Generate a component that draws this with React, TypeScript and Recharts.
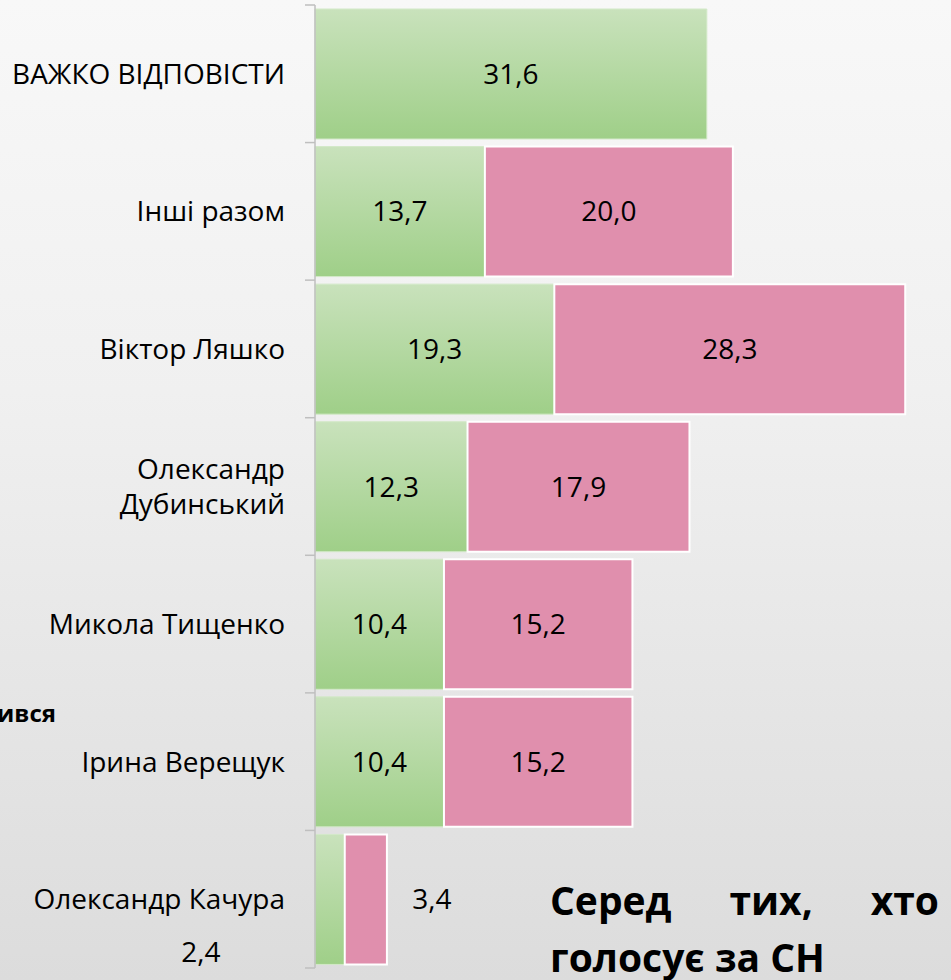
import { BarChart, Bar, XAxis, YAxis, LabelList } from 'recharts'

const categories = [
  'ВАЖКО ВІДПОВІСТИ',
  'Інші разом',
  'Віктор Ляшко',
  'Олександр Дубинський',
  'Микола Тищенко',
  'Ірина Верещук',
  'Олександр Качура',
]
const greenValues = [31.6, 13.7, 19.3, 12.3, 10.4, 10.4, 2.4]
const pinkValues = [null, 20.0, 28.3, 17.9, 15.2, 15.2, 3.4]

// label lines for multi-line category names
const categoryLines: Record<string, string[]> = {
  'Олександр Дубинський': ['Олександр', 'Дубинський'],
}

// labels that were dragged out of their bars in the original
const greenLabelShift: Record<string, { dx: number; dy: number }> = {
  'Олександр Качура': { dx: -129, dy: 53 },
}
const pinkLabelShift: Record<string, { dx: number; dy: number }> = {
  'Олександр Качура': { dx: 66, dy: 0 },
}

const data = categories.map((name, i) => ({
  name,
  green: greenValues[i],
  pink: pinkValues[i],
}))

const FONT = '"Open Sans", "Noto Sans", sans-serif'
const fmt = (v: number) => v.toFixed(1).replace('.', ',')

const CategoryTick = (props: any) => {
  const { x, y, payload, index } = props
  const half = payload.offset || 0
  const lines = categoryLines[payload.value] || [payload.value]
  const lh = 35
  const start = -((lines.length - 1) * lh) / 2
  return (
    <g>
      <line x1={x - 10} x2={x} y1={y - half} y2={y - half} stroke="#bfbfbf" strokeWidth={1.5} />
      {index === categories.length - 1 && (
        <line x1={x - 10} x2={x} y1={y + half} y2={y + half} stroke="#bfbfbf" strokeWidth={1.5} />
      )}
      <text x={x - 30} y={y} textAnchor="end" fontFamily={FONT} fontSize={28} fill="#000">
        {lines.map((l, k) => (
          <tspan key={k} x={x - 30} dy={k === 0 ? start + 10 : lh}>
            {l}
          </tspan>
        ))}
      </text>
    </g>
  )
}

// LabelList reads the category name, the value is looked up by it
const makeLabel = (key: 'green' | 'pink', shift: Record<string, { dx: number; dy: number }>) => (props: any) => {
  const { x, y, width, height, value } = props
  const row = data.find((d) => d.name === value)
  const v = row ? row[key] : null
  if (v == null) return null
  const s = shift[value] || { dx: 0, dy: 0 }
  return (
    <text
      x={x + width / 2 + s.dx}
      y={y + height / 2 + s.dy}
      dy="0.35em"
      textAnchor="middle"
      fontFamily={FONT}
      fontSize={28}
      fill="#000"
    >
      {fmt(v)}
    </text>
  )
}

export default function App() {
  return (
    <div
      style={{
        position: 'fixed',
        left: 0,
        top: 0,
        width: 951,
        height: 980,
        overflow: 'hidden',
        background: 'linear-gradient(180deg, #f8f8f8 0%, #f0f0f0 40%, #dcdcdc 100%)',
        fontFamily: FONT,
      }}
    >
      <BarChart
        width={951}
        height={980}
        data={data}
        layout="vertical"
        margin={{ top: 5, right: 16, bottom: 12, left: 0 }}
        barCategoryGap={4}
      >
        <defs>
          <linearGradient id="greenGrad" x1="0" y1="0" x2="0" y2="1">
            <stop offset="0%" stopColor="#c9e2bc" />
            <stop offset="100%" stopColor="#9fcf88" />
          </linearGradient>
        </defs>
        <XAxis type="number" domain={[0, 50]} hide />
        <YAxis
          type="category"
          dataKey="name"
          width={315}
          axisLine={{ stroke: '#bfbfbf', strokeWidth: 1.5 }}
          tickLine={false}
          tickSize={0}
          tickMargin={0}
          interval={0}
          tick={<CategoryTick />}
        />
        <Bar dataKey="green" stackId="a" fill="url(#greenGrad)" stroke="#d3e9c8" strokeWidth={1} isAnimationActive={false}>
          <LabelList dataKey="name" content={makeLabel('green', greenLabelShift)} />
        </Bar>
        <Bar dataKey="pink" stackId="a" fill="#e08fad" stroke="#ffffff" strokeWidth={2} isAnimationActive={false}>
          <LabelList dataKey="name" content={makeLabel('pink', pinkLabelShift)} />
        </Bar>
      </BarChart>
      <div
        style={{
          position: 'absolute',
          left: 26,
          top: 698,
          width: 30,
          textAlign: 'right',
          fontWeight: 700,
          fontSize: 24,
          lineHeight: '30px',
          color: '#000',
          whiteSpace: 'nowrap',
          direction: 'rtl',
        }}
      >
        ився
      </div>
      <div
        style={{
          position: 'absolute',
          left: 550,
          top: 871,
          width: 389,
          textAlign: 'justify',
          textAlignLast: 'left',
          fontWeight: 700,
          fontSize: 39,
          lineHeight: '57px',
          color: '#000',
        }}
      >
        Серед тих, хто голосує за СН
      </div>
    </div>
  )
}
